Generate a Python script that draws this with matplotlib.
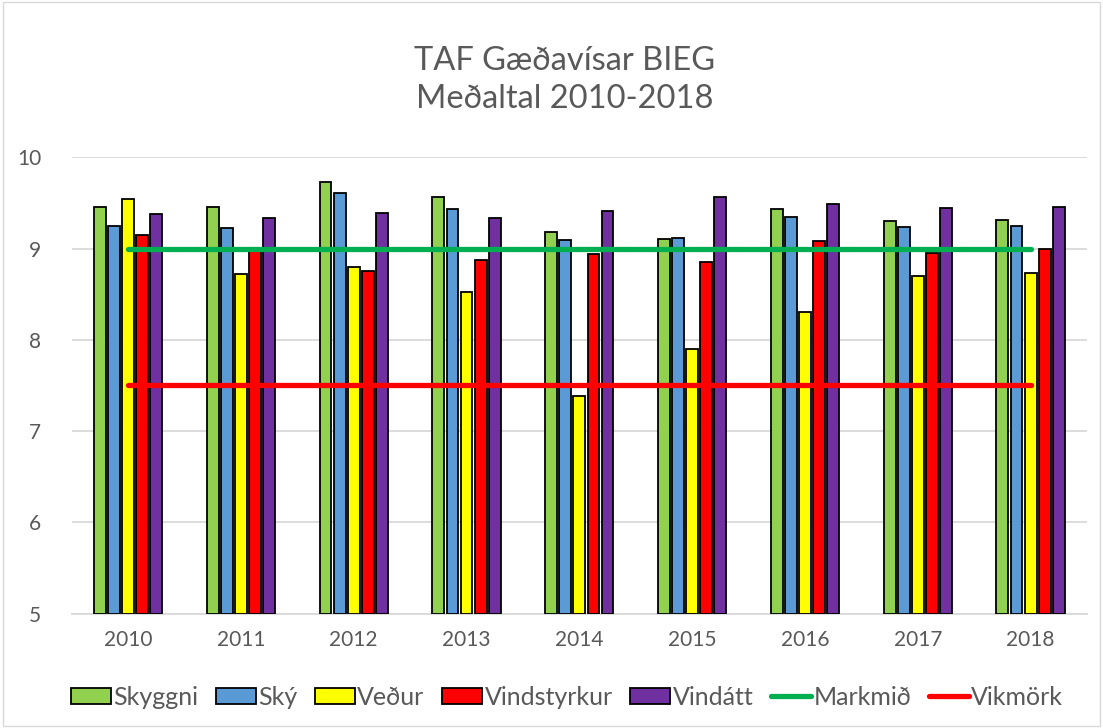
import matplotlib
matplotlib.use("Agg")
import matplotlib.pyplot as plt
import numpy as np
from matplotlib.patches import Patch
from matplotlib.lines import Line2D

years = ["2010", "2011", "2012", "2013", "2014", "2015", "2016", "2017", "2018"]
skyggni = [9.45, 9.45, 9.73, 9.57, 9.18, 9.10, 9.43, 9.30, 9.31]
sky = [9.25, 9.23, 9.61, 9.43, 9.09, 9.12, 9.35, 9.24, 9.25]
vedur = [9.54, 8.72, 8.80, 8.52, 7.39, 7.90, 8.30, 8.70, 8.73]
vindstyrkur = [9.15, 9.00, 8.75, 8.87, 8.94, 8.85, 9.08, 8.95, 9.00]
vindatt = [9.38, 9.33, 9.39, 9.33, 9.41, 9.57, 9.49, 9.44, 9.45]
markmid = [9.0] * 9
vikmork = [7.5] * 9

bar_series = [
    ("Skyggni", skyggni, "#92D050"),
    ("Ský", sky, "#5B9BD5"),
    ("Veður", vedur, "#FFFF00"),
    ("Vindstyrkur", vindstyrkur, "#FF0000"),
    ("Vindátt", vindatt, "#7030A0"),
]

plt.rcParams['font.family'] = ['Lato', 'DejaVu Sans']
gray = "#595959"

fig = plt.figure(figsize=(11.03, 7.28), dpi=100)
ax = fig.add_axes([0.065, 0.157, 0.9205, 0.627])

x = np.arange(len(years))
step = 0.125
width = 0.105
for i, (name, vals, col) in enumerate(bar_series):
    off = (i - 2) * step
    ax.bar(x + off, np.array(vals) - 5, bottom=5, width=width, color=col,
           edgecolor="black", linewidth=1.3, zorder=3)

ax.plot(x, markmid, color="#00B050", linewidth=3.8, solid_capstyle="round", zorder=4)
ax.plot(x, vikmork, color="#FF0000", linewidth=3.8, solid_capstyle="round", zorder=4)

ax.set_xlim(-0.5, len(years) - 0.5)
ax.set_ylim(5, 10)
ax.set_yticks([5, 6, 7, 8, 9, 10])
ax.set_xticks(x)
ax.set_xticklabels(years)
ax.tick_params(axis="both", length=0, labelsize=15, colors=gray)
ax.tick_params(axis="x", pad=12)
ax.tick_params(axis="y", pad=22)
ax.grid(axis="y", color="#D9D9D9", linewidth=1.3, zorder=0)
for s in ["top", "right", "left"]:
    ax.spines[s].set_visible(False)
ax.spines["bottom"].set_color("#D9D9D9")
ax.spines["bottom"].set_linewidth(1.3)

fig.text(0.512, 0.89, "TAF Gæðavísar BIEG\nMeðaltal 2010-2018", ha="center", va="center",
         fontsize=23.5, color=gray, linespacing=1.35)

handles = [Patch(facecolor=c, edgecolor="black", linewidth=1.3, label=n) for n, _, c in bar_series]
handles.append(Line2D([0], [0], color="#00B050", linewidth=3.8, solid_capstyle="round", label="Markmið"))
handles.append(Line2D([0], [0], color="#FF0000", linewidth=3.8, solid_capstyle="round", label="Vikmörk"))
fig.legend(handles=handles, loc="center", bbox_to_anchor=(0.514, 0.042), ncol=7, frameon=False,
           fontsize=18, labelcolor=gray, handlelength=1.6, handleheight=0.65,
           handletextpad=0.1, columnspacing=0.7)

border = plt.Rectangle((0.003, 0.003), 0.994, 0.994, transform=fig.transFigure,
                       fill=False, edgecolor="#D9D9D9", linewidth=1)
fig.patches.append(border)

fig.savefig("out.png", dpi=100)
